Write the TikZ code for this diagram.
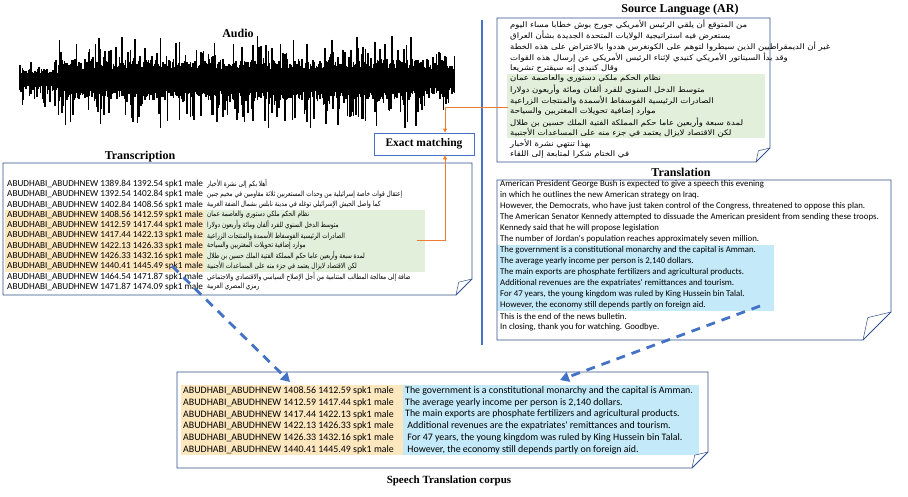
\documentclass[tikz,border=0pt]{standalone}
\usepackage{fontspec}
\setmainfont{Liberation Serif}
\newfontfamily\calfont{Carlito}
\newfontfamily\arabicfont[Script=Arabic, FakeStretch=1.12]{DejaVu Sans}
\newfontfamily\arabicnarrow[Script=Arabic, FakeStretch=0.8]{DejaVu Sans}
\TeXXeTstate=1
\usetikzlibrary{arrows.meta,positioning}

\definecolor{boxblue}{HTML}{2F4E8C}
\definecolor{linkblue}{HTML}{4472C4}
\definecolor{matchorange}{HTML}{ED7D31}
\definecolor{hlgreen}{HTML}{E2EFDA}
\definecolor{hlyellow}{HTML}{FCE7BF}
\definecolor{hlblue}{HTML}{C4E9F8}

\newcommand{\ar}[1]{{\beginR #1\endR}}
% box with a folded bottom right corner
\newcommand{\foldbox}[5]{%
	\draw[paper] (#1,#2) -- (#3,#2) -- (#3,#4-#5) -- (#3-#5,#4) -- (#1,#4) -- cycle;
	\draw[flap] (#3,#4-#5) -- (#3-0.83*#5,#4-0.8*#5) -- (#3-#5,#4);
}

\begin{document}
\begin{tikzpicture}[x=1pt, y=-1pt,
		title/.style={inner sep=0pt, font=\fontsize{12}{14}\selectfont\bfseries},
		paper/.style={draw=boxblue, line width=0.8pt},
		flap/.style={draw=boxblue, line width=0.5pt},
		arline/.style={anchor=west, inner sep=0pt, font=\fontsize{7.6}{9}\selectfont\arabicfont},
		trsline/.style={anchor=west, inner sep=0pt, font=\fontsize{7.2}{9}\selectfont\arabicnarrow},
		idline/.style={anchor=west, inner sep=0pt, font=\fontsize{9.2}{10}\selectfont\calfont},
		enline/.style={anchor=west, inner sep=0pt, font=\fontsize{8.8}{10}\selectfont\calfont},
		corline/.style={anchor=west, inner sep=0pt, font=\fontsize{9.9}{11}\selectfont\calfont},
		matchbox/.style={draw=linkblue, line width=0.8pt, minimum width=100pt, minimum height=22pt,
			font=\fontsize{11.5}{13}\selectfont\bfseries},
		linkarrow/.style={linkblue, line width=2.8pt, dash pattern=on 9pt off 7pt,
			-{Triangle[length=9pt,width=10pt]}},
		matcharrow/.style={matchorange, line width=0.8pt, -{Triangle[length=4pt,width=4pt]}}
	]
	\useasboundingbox (0,0) rectangle (908,496);
	
	% audio
	\node[title] (audio) at (238,33) {Audio};
	\pgfmathsetseed{11}
	\foreach \i in {0,...,362}{
		\pgfmathsetmacro\wx{20+1.2*\i}
		\pgfmathsetmacro\env{ifthenelse(\wx<58,0.55,ifthenelse(\wx>425,0.7,1))}
		\pgfmathsetmacro\up{\env*(11+10*rnd+(rnd>0.6)*25*rnd)}
		\pgfmathsetmacro\dn{\env*(11+10*rnd+(rnd>0.6)*30*rnd)}
		\draw[line width=1.5pt] (\wx,80-\up) -- (\wx,80+\dn);
	}
	
	% highlights
	\fill[hlgreen] (507,73.6) rectangle (765,138.4);
	\fill[hlblue] (497,244.5) rectangle (774,311);
	\fill[hlyellow] (5,209.8) rectangle (205,271.5);
	\fill[hlgreen] (205,209.8) rectangle (425,271.5);
	\fill[hlyellow] (181,385.2) rectangle (403,455.3);
	\fill[hlblue] (403,385.2) rectangle (699,455.3);
	
	% boxes
	\draw[linkblue, line width=1.5pt] (482,20) -- (482,345);
	\foldbox{497}{18}{770}{162}{14}
	\foldbox{497}{180}{891}{340}{28}
	\foldbox{3}{163}{472}{295}{16}
	\foldbox{177}{372}{708}{468}{16}
	
	% source language
	\node[title] (srctitle) at (680,10) {Source Language (AR)};
	\foreach \t [count=\k] in {
		من المتوقع أن يلقي الرئيس الأمريكي جورج بوش خطابا مساء اليوم,
		يستعرض فيه استراتيجية الولايات المتحدة الجديدة بشأن العراق,
		غير أن الديمقراطيين الذين سيطروا لتوهم على الكونغرس هددوا بالاعتراض على هذه الخطة,
		وقد بدأ السيناتور الأمريكي كنيدي لإثناء الرئيس الأمريكي عن إرسال هذه القوات,
		وقال كنيدي إنه سيقترح تشريعا,
		نظام الحكم ملكي دستوري والعاصمة عمان,
		متوسط الدخل السنوي للفرد ألفان ومائة وأربعون دولارا,
		الصادرات الرئيسية الفوسفاط الأسمدة والمنتجات الزراعية,
		موارد إضافية تحويلات المغتربين والسياحة,
		لمدة سبعة وأربعين عاما حكم المملكة الفتية الملك حسين بن طلال,
		لكن الاقتصاد لايزال يعتمد في جزء منه على المساعدات الأجنبية,
		بهذا تنتهي نشرة الأخبار,
		في الختام شكرا لمتابعة إلى اللقاء}
		\node[arline] (src\k) at (510,25+10.8*\k-10.8) {\ar{\t}};
	
	% translation
	\node[title] (trltitle) at (681,172) {Translation};
	\foreach \t [count=\k] in {
		American President George Bush is expected to give a speech this evening,
		in which he outlines the new American strategy on Iraq.,
		{However, the Democrats, who have just taken control of the Congress, threatened to oppose this plan.},
		The American Senator Kennedy attempted to dissuade the American president from sending these troops.,
		Kennedy said that he will propose legislation,
		The number of Jordan's population reaches approximately seven million.,
		The government is a constitutional monarchy and the capital is Amman.,
		{The average yearly income per person is 2,140 dollars.},
		The main exports are phosphate fertilizers and agricultural products.,
		Additional revenues are the expatriates' remittances and tourism.,
		{For 47 years, the young kingdom was ruled by King Hussein bin Talal.},
		{However, the economy still depends partly on foreign aid.},
		This is the end of the news bulletin.,
		{In closing, thank you for watching. Goodbye.}}
		\node[enline] (trl\k) at (500,184+11*\k-11) {\t};
	
	% transcription
	\node[title] (trstitle) at (140,157) {Transcription};
	\foreach \s/\e/\t [count=\k] in {
		1389.84/1392.54/أهلا بكم إلى نشرة الأخبار,
		1392.54/1402.84/إعتقال قوات خاصة إسرائيلية من وحدات المستعربين ثلاثة مقاومين في مخيم جنين,
		1402.84/1408.56/كما واصل الجيش الإسرائيلي توغله في مدينة نابلس بشمال الضفة الغربية,
		1408.56/1412.59/نظام الحكم ملكي دستوري والعاصمة عمان,
		1412.59/1417.44/متوسط الدخل السنوي للفرد ألفان ومائة وأربعون دولارا,
		1417.44/1422.13/الصادرات الرئيسية الفوسفاط الأسمدة والمنتجات الزراعية,
		1422.13/1426.33/موارد إضافية تحويلات المغتربين والسياحة,
		1426.33/1432.16/لمدة سبعة وأربعين عاما حكم المملكة الفتية الملك حسين بن طلال,
		1440.41/1445.49/لكن الاقتصاد لايزال يعتمد في جزء منه على المساعدات الأجنبية,
		1464.54/1471.87/ضافة إلى معالجة المطالب المتنامية من أجل الإصلاح السياسي والاقتصادي والاجتماعي,
		1471.87/1474.09/رمزي المصري العربية}{
		\node[idline] (trsid\k) at (7,184+10.3*\k-10.3) {ABUDHABI\_ABUDHNEW \s\ \e\ spk1 male};
		\node[trsline] (trsar\k) at (207,184+10.3*\k-10.3) {\ar{\t}};
	}
	
	% exact matching
	\node[matchbox] (match) at (424,144) {Exact matching};
	\coordinate (srcgreen) at (508,107);
	\coordinate (trsgreen) at (417,240);
	\draw[matcharrow] (srcgreen) -| ([xshift=21]match.north);
	\draw[matcharrow] (trsgreen) -| ([xshift=21]match.south);
	
	% corpus
	\foreach \s/\e/\t [count=\k] in {
		1408.56/1412.59/The government is a constitutional monarchy and the capital is Amman.,
		1412.59/1417.44/{The average yearly income per person is 2,140 dollars.},
		1417.44/1422.13/The main exports are phosphate fertilizers and agricultural products.,
		1422.13/1426.33/\ Additional revenues are the expatriates' remittances and tourism.,
		1426.33/1432.16/{\ For 47 years, the young kingdom was ruled by King Hussein bin Talal.},
		1440.41/1445.49/{\ However, the economy still depends partly on foreign aid.}}{
		\node[corline] (corid\k) at (183,391+11.7*\k-11.7) {ABUDHABI\_ABUDHNEW \s\ \e\ spk1 male};
		\node[corline] (coren\k) at (405,391+11.7*\k-11.7) {\t};
	}
	\node[title, font=\fontsize{11}{13}\selectfont\bfseries] (cortitle) at (449,481) {Speech Translation corpus};
	
	% links to the corpus
	\coordinate (trsrow) at (172,266);
	\coordinate (corpusid) at (290,382);
	\coordinate (trlrow) at (760,306);
	\coordinate (corpusen) at (560,380);
	\draw[linkarrow] (trsrow) -- (corpusid);
	\draw[linkarrow] (trlrow) -- (corpusen);
\end{tikzpicture}
\end{document}
